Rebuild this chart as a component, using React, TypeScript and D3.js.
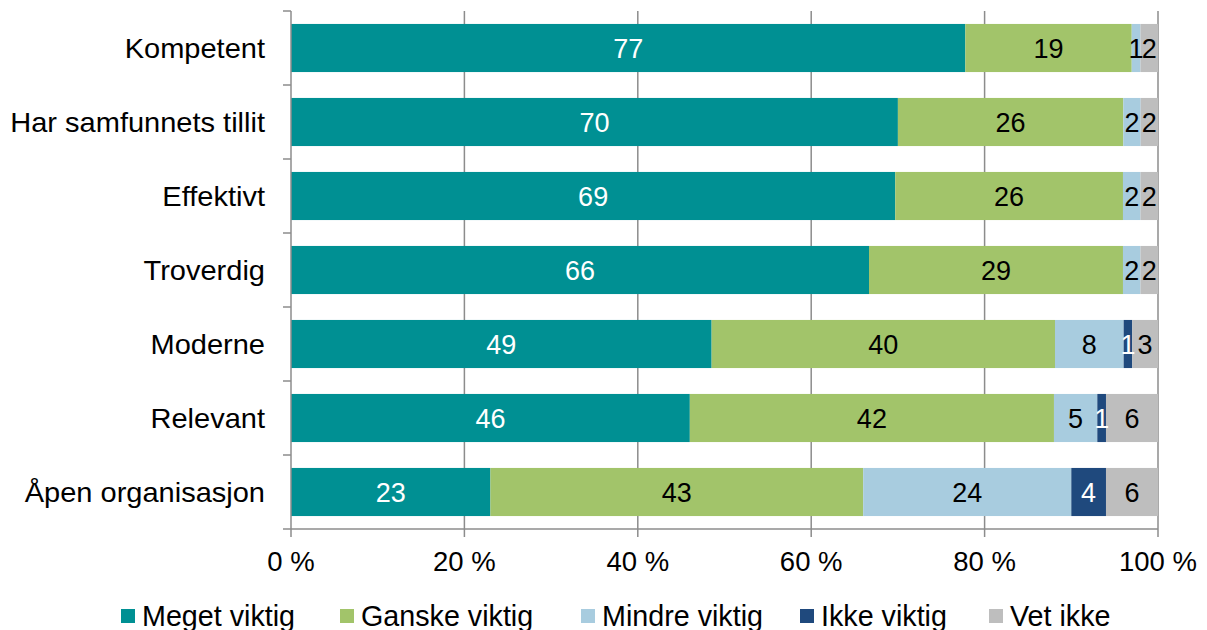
import React from 'react';
import * as d3 from 'd3';

const categories = [
  'Kompetent',
  'Har samfunnets tillit',
  'Effektivt',
  'Troverdig',
  'Moderne',
  'Relevant',
  'Åpen organisasjon',
];

const seriesNames = ['Meget viktig', 'Ganske viktig', 'Mindre viktig', 'Ikke viktig', 'Vet ikke'];

const megetViktig = [77, 70, 69, 66, 49, 46, 23];
const ganskeViktig = [19, 26, 26, 29, 40, 42, 43];
const mindreViktig = [1, 2, 2, 2, 8, 5, 24];
const ikkeViktig = [0, 0, 0, 0, 1, 1, 4];
const vetIkke = [2, 2, 2, 2, 3, 6, 6];

const xTicks = [0, 0.2, 0.4, 0.6, 0.8, 1];

const colors = ['#009093', '#A2C46A', '#A8CCDF', '#1F497D', '#BEBEBE'];
const labelColors = ['#ffffff', '#000000', '#000000', '#ffffff', '#000000'];

const App = () => {
  const svgRef = React.useRef<SVGSVGElement>(null);
  const width = 1207;
  const height = 630;
  const margin = { top: 11, right: 49, bottom: 101, left: 291 };

  React.useEffect(() => {
    const svg = d3.select(svgRef.current);
    svg.selectAll('*').remove();

    const chartW = width - margin.left - margin.right;
    const chartH = height - margin.top - margin.bottom;
    const font = 'Liberation Sans, Arial, sans-serif';

    const series = [megetViktig, ganskeViktig, mindreViktig, ikkeViktig, vetIkke];
    const rows = categories.map((c, i) => {
      const row: any = { cat: c };
      seriesNames.forEach((s, j) => (row[s] = series[j][i]));
      return row;
    });

    const stack = d3.stack<any>()
      .keys(seriesNames)
      .offset(d3.stackOffsetExpand);
    const stacked = stack(rows);

    const x = d3.scaleLinear().domain([0, 1]).range([0, chartW]);
    const y = d3.scaleBand()
      .domain(categories)
      .range([0, chartH])
      .paddingInner(0.35)
      .paddingOuter(0.175);

    const g = svg.append('g').attr('transform', `translate(${margin.left},${margin.top})`);

    // gridlines
    g.append('g')
      .selectAll('line')
      .data(xTicks.slice(1))
      .enter()
      .append('line')
      .attr('x1', d => x(d))
      .attr('x2', d => x(d))
      .attr('y1', 0)
      .attr('y2', chartH)
      .attr('stroke', '#8c8c8c')
      .attr('stroke-width', 1.5);

    // bars
    const layers = g.selectAll('.layer')
      .data(stacked)
      .enter()
      .append('g')
      .attr('fill', (d, i) => colors[i]);

    layers.selectAll('rect')
      .data(d => d)
      .enter()
      .append('rect')
      .attr('x', d => x(d[0]))
      .attr('width', d => Math.max(0, x(d[1]) - x(d[0])))
      .attr('y', d => y(d.data.cat)!)
      .attr('height', y.bandwidth());

    // value labels
    stacked.forEach((layer, i) => {
      g.append('g')
        .selectAll('text')
        .data(layer.filter(d => (d.data as any)[layer.key] > 0))
        .enter()
        .append('text')
        .attr('x', d => x((d[0] + d[1]) / 2))
        .attr('y', d => y(d.data.cat)! + y.bandwidth() / 2)
        .attr('dy', '0.36em')
        .attr('text-anchor', 'middle')
        .attr('font-family', font)
        .attr('font-size', 27)
        .attr('fill', labelColors[i])
        .text(d => (d.data as any)[layer.key]);
    });

    // y axis
    const yAxis = g.append('g');
    yAxis.append('line')
      .attr('x1', 0).attr('x2', 0)
      .attr('y1', 0).attr('y2', chartH)
      .attr('stroke', '#8c8c8c').attr('stroke-width', 1.5);
    const bounds = d3.range(categories.length + 1).map(i => i * y.step());
    yAxis.selectAll('.tick')
      .data(bounds)
      .enter()
      .append('line')
      .attr('x1', -8).attr('x2', 0)
      .attr('y1', d => d).attr('y2', d => d)
      .attr('stroke', '#8c8c8c').attr('stroke-width', 1.5);
    // labels are a little wider than the font draws them, so stretch them sideways
    yAxis.selectAll('text')
      .data(categories)
      .enter()
      .append('text')
      .attr('transform', d => `translate(-26,${y(d)! + y.bandwidth() / 2}) scale(1.075,1)`)
      .attr('dy', '0.36em')
      .attr('text-anchor', 'end')
      .attr('font-family', font)
      .attr('font-size', 27)
      .attr('fill', '#000')
      .text(d => d);

    // x axis
    const xAxis = g.append('g').attr('transform', `translate(0,${chartH})`);
    xAxis.append('line')
      .attr('x1', 0).attr('x2', chartW)
      .attr('stroke', '#8c8c8c').attr('stroke-width', 1.5);
    xAxis.selectAll('.tick')
      .data(xTicks)
      .enter()
      .append('line')
      .attr('x1', d => x(d)).attr('x2', d => x(d))
      .attr('y1', 0).attr('y2', 8)
      .attr('stroke', '#8c8c8c').attr('stroke-width', 1.5);
    xAxis.selectAll('text')
      .data(xTicks)
      .enter()
      .append('text')
      .attr('x', d => x(d))
      .attr('y', 42)
      .attr('text-anchor', 'middle')
      .attr('font-family', font)
      .attr('font-size', 27.5)
      .attr('fill', '#000')
      .text(d => `${Math.round(d * 100)} %`);

    // legend
    const legendX = [121, 340, 581, 800, 989];
    const legend = svg.append('g');
    seriesNames.forEach((s, i) => {
      const item = legend.append('g').attr('transform', `translate(${legendX[i]},0)`);
      item.append('rect')
        .attr('x', 0).attr('y', 609)
        .attr('width', 14).attr('height', 14)
        .attr('fill', colors[i]);
      item.append('text')
        .attr('x', 21)
        .attr('y', 626)
        .attr('font-family', font)
        .attr('font-size', 28.7)
        .attr('fill', '#000')
        .text(s);
    });
  }, []);

  return (
    <svg
      ref={svgRef}
      width={width}
      height={height}
      style={{ position: 'absolute', left: 0, top: 0, background: '#fff' }}
    />
  );
};

export default App;
